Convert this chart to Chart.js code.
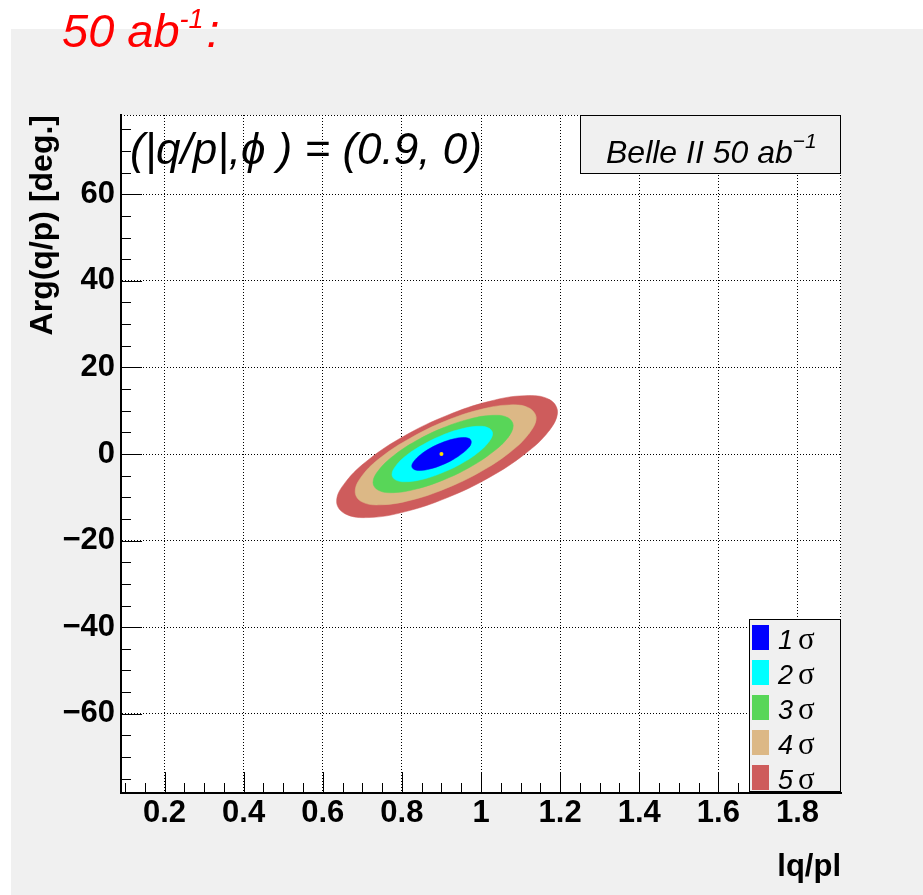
<!DOCTYPE html>
<html>
<head>
<meta charset="utf-8">
<title>|q/p| vs Arg(q/p) contours</title>
<script src="https://cdn.jsdelivr.net/npm/chart.js@4.4.1/dist/chart.umd.min.js"></script>
<style>
  html, body { margin: 0; padding: 0; background: #fff; }
  canvas { display: block; }
</style>
</head>
<body>
<canvas id="contours" width="923" height="895"></canvas>
<script>
// 1–5 sigma contour regions in the (|q/p|, Arg(q/p)) plane, Belle II 50 ab^-1.

const xRange = [0.09, 1.91];
const yRange = [-78.3, 78.3];
const xMajorStep = 0.2;
const yMajorStep = 20;

const sigmaLabels = ['1', '2', '3', '4', '5'];
const sigmaColors = ['#0000ff', '#00ffff', '#58d658', '#dcb886', '#ce5c5c'];

// outline points [|q/p|, Arg(q/p) deg], taken round each region
const contour1 = [[0.975, 2.80], [0.970, 3.57], [0.953, 3.80], [0.929, 3.45], [0.900, 2.57], [0.871, 1.30],
  [0.847, -0.17], [0.831, -1.61], [0.825, -2.80], [0.831, -3.57], [0.847, -3.80], [0.871, -3.45],
  [0.900, -2.57], [0.929, -1.30], [0.953, 0.17], [0.970, 1.61]];
const contour2 = [[1.029, 4.73], [1.019, 6.02], [0.992, 6.40], [0.951, 5.81], [0.902, 4.33], [0.854, 2.19],
  [0.812, -0.28], [0.785, -2.71], [0.775, -4.73], [0.785, -6.02], [0.812, -6.40], [0.854, -5.81],
  [0.902, -4.33], [0.951, -2.19], [0.992, 0.28], [1.019, 2.71]];
const contour3 = [[1.081, 6.59], [1.068, 8.40], [1.029, 8.93], [0.972, 8.10], [0.904, 6.04], [0.836, 3.05],
  [0.779, -0.39], [0.741, -3.78], [0.727, -6.59], [0.741, -8.40], [0.779, -8.93], [0.836, -8.10],
  [0.904, -6.04], [0.972, -3.05], [1.029, 0.39], [1.068, 3.78]];
const contour4 = [[1.139, 8.32], [1.121, 10.65], [1.072, 11.33], [0.998, 10.26], [0.910, 7.60], [0.823, 3.74],
  [0.748, -0.71], [0.699, -5.08], [0.682, -8.72], [0.699, -11.05], [0.748, -11.73], [0.823, -10.66],
  [0.910, -8.00], [0.998, -4.14], [1.072, 0.31], [1.121, 4.68]];
const contour5 = [[1.193, 9.78], [1.172, 12.63], [1.111, 13.47], [1.021, 12.16], [0.914, 8.91], [0.807, 4.21],
  [0.717, -1.22], [0.657, -6.56], [0.635, -10.98], [0.657, -13.83], [0.717, -14.67], [0.807, -13.36],
  [0.914, -10.11], [1.021, -5.41], [1.111, 0.02], [1.172, 5.36]];
const contours = [contour1, contour2, contour3, contour4, contour5];

const bestFit = [[0.9, 0]];

const SANS = '"Liberation Sans", Arial, Helvetica, sans-serif';
const SERIF = '"Liberation Serif", "DejaVu Serif", serif';

// wrap round past the start so the smoothed outline closes without a corner
function ringData(pts) {
  return [pts[pts.length - 1]].concat(pts, pts.slice(0, 2));
}

function fmtY(v) {
  return v < 0 ? '\u2212' + Math.abs(v) : String(v);
}

// text with a raised exponent, returns end x
function supText(ctx, x, y, base, sup, size, supSize, rise) {
  ctx.font = 'italic ' + size + 'px ' + SANS;
  ctx.fillText(base, x, y);
  x += ctx.measureText(base).width;
  ctx.font = 'italic ' + supSize + 'px ' + SANS;
  ctx.fillText(sup, x, y - rise);
  return x + ctx.measureText(sup).width;
}

const decorations = {
  id: 'decorations',
  beforeDraw(chart) {
    const { ctx, chartArea: a } = chart;
    ctx.save();
    ctx.fillStyle = '#ffffff';
    ctx.fillRect(0, 0, chart.width, chart.height);
    ctx.fillStyle = '#f0f0f0';
    ctx.fillRect(11, 29, chart.width - 11, chart.height - 29);
    ctx.fillStyle = '#ffffff';
    ctx.fillRect(a.left, a.top, a.right - a.left, a.bottom - a.top);
    ctx.restore();
  },
  afterDraw(chart) {
    const { ctx, chartArea: a, scales: { x, y } } = chart;
    ctx.save();

    // top / right frame edges
    ctx.strokeStyle = '#000';
    ctx.lineWidth = 1;
    ctx.setLineDash([1, 2]);
    ctx.beginPath();
    ctx.moveTo(a.left, a.top + 0.5);
    ctx.lineTo(a.right, a.top + 0.5);
    ctx.moveTo(a.right - 0.5, a.top);
    ctx.lineTo(a.right - 0.5, a.bottom);
    ctx.stroke();
    ctx.setLineDash([]);

    // inward tick marks, 4 minor divisions per major
    ctx.beginPath();
    const xMinor = xMajorStep / 4, yMinor = yMajorStep / 4;
    for (let i = Math.ceil(xRange[0] / xMinor - 1e-9); i * xMinor <= xRange[1]; i++) {
      const px = Math.round(x.getPixelForValue(i * xMinor)) + 0.5;
      ctx.moveTo(px, a.bottom);
      ctx.lineTo(px, a.bottom - (i % 4 === 0 ? 21 : 10));
    }
    for (let i = Math.ceil(yRange[0] / yMinor - 1e-9); i * yMinor <= yRange[1]; i++) {
      const py = Math.round(y.getPixelForValue(i * yMinor)) + 0.5;
      ctx.moveTo(a.left, py);
      ctx.lineTo(a.left + (i % 4 === 0 ? 21 : 10), py);
    }
    ctx.stroke();

    ctx.textBaseline = 'alphabetic';
    ctx.textAlign = 'left';

    // header
    ctx.fillStyle = '#ff0000';
    const ex = supText(ctx, 62, 47, '50 ab', '-1', 47, 27, 19);
    ctx.font = 'italic 47px ' + SANS;
    ctx.fillText(':', ex + 3, 47);

    // point label inside the frame
    ctx.fillStyle = '#000';
    ctx.font = 'italic 44px ' + SANS;
    ctx.fillText('(|q/p|,\u03d5 ) = (0.9, 0)', a.left + 9, 164);

    // experiment box
    const bx = a.right - 261, by = a.top, bw = 261, bh = 59;
    ctx.fillStyle = '#f0f0f0';
    ctx.fillRect(bx, by, bw, bh);
    ctx.strokeStyle = '#000';
    ctx.strokeRect(bx + 0.5, by + 0.5, bw - 1, bh - 1);
    ctx.fillStyle = '#000';
    supText(ctx, bx + 26, by + 48, 'Belle II 50 ab', '\u22121', 32, 21, 15);

    // sigma legend
    const lw = 92, lh = 174;
    const lx = a.right - lw, ly = a.bottom - lh;
    ctx.fillStyle = '#f0f0f0';
    ctx.fillRect(lx, ly, lw, lh);
    ctx.strokeStyle = '#000';
    ctx.lineWidth = 1;
    ctx.strokeRect(lx + 0.5, ly + 0.5, lw - 1, lh - 1);
    ctx.lineWidth = 2;
    ctx.beginPath();
    ctx.moveTo(lx, ly + lh - 1);
    ctx.lineTo(lx + lw, ly + lh - 1);
    ctx.stroke();
    chart.data.datasets.forEach(ds => {
      if (ds.sigma === undefined) return;
      const ry = ly + 6 + ds.sigma * 35;
      ctx.fillStyle = ds.backgroundColor;
      ctx.fillRect(lx + 3, ry, 17, 25);
      ctx.fillStyle = '#000';
      ctx.font = 'italic 27px ' + SANS;
      ctx.fillText(ds.label, lx + 29, ry + 24);
      const w = ctx.measureText(ds.label).width;
      ctx.font = '31px ' + SERIF;
      ctx.fillText('\u03c3', lx + 29 + w + 5, ry + 24);
    });

    ctx.restore();
  }
};

const datasets = [{
  label: 'best fit',
  data: bestFit,
  showLine: false,
  pointRadius: 2,
  pointBackgroundColor: '#ffdd00',
  pointBorderWidth: 0
}].concat(contours.map((pts, i) => ({
  label: sigmaLabels[i],
  sigma: i,
  data: ringData(pts),
  showLine: true,
  fill: 'shape',
  tension: 0.4,
  backgroundColor: sigmaColors[i],
  borderColor: sigmaColors[i],
  borderWidth: 0.5,
  pointRadius: 0,
  pointHoverRadius: 0
})));

const tickFont = { family: SANS, size: 31, weight: 'bold' };

new Chart(document.getElementById('contours'), {
  type: 'scatter',
  data: { datasets },
  options: {
    responsive: false,
    devicePixelRatio: 1,
    animation: false,
    events: [],
    layout: { padding: { top: 115, right: 82, left: 0, bottom: 0 } },
    plugins: {
      legend: { display: false },
      tooltip: { enabled: false }
    },
    scales: {
      x: {
        type: 'linear',
        min: xRange[0],
        max: xRange[1],
        z: 1,
        afterFit: s => { s.height = 102; },
        ticks: {
          stepSize: xMajorStep,
          includeBounds: false,
          maxTicksLimit: 30,
          autoSkip: false,
          maxRotation: 0,
          padding: 2,
          color: '#000',
          font: tickFont,
          callback: v => String(Math.round(v * 10) / 10)
        },
        grid: { color: '#000', lineWidth: 1, drawTicks: false },
        border: { display: true, color: '#000', width: 2, dash: [1, 2] },
        title: {
          display: true, text: 'lq/pl', align: 'end', color: '#000',
          font: { family: SANS, size: 31, weight: 'bold' },
          padding: { top: 0, bottom: 9 }
        }
      },
      y: {
        type: 'linear',
        min: yRange[0],
        max: yRange[1],
        z: 1,
        afterFit: s => { s.width = 121; },
        ticks: {
          stepSize: yMajorStep,
          includeBounds: false,
          maxTicksLimit: 30,
          autoSkip: false,
          padding: 6,
          color: '#000',
          font: tickFont,
          callback: fmtY
        },
        grid: { color: '#000', lineWidth: 1, drawTicks: false },
        border: { display: true, color: '#000', width: 2, dash: [1, 2] },
        title: {
          display: true, text: 'Arg(q/p) [deg.]', align: 'end', color: '#000',
          font: { family: SANS, size: 32, weight: 'bold' },
          padding: { top: 24, bottom: 0 }
        }
      }
    }
  },
  plugins: [decorations]
});
</script>
</body>
</html>
